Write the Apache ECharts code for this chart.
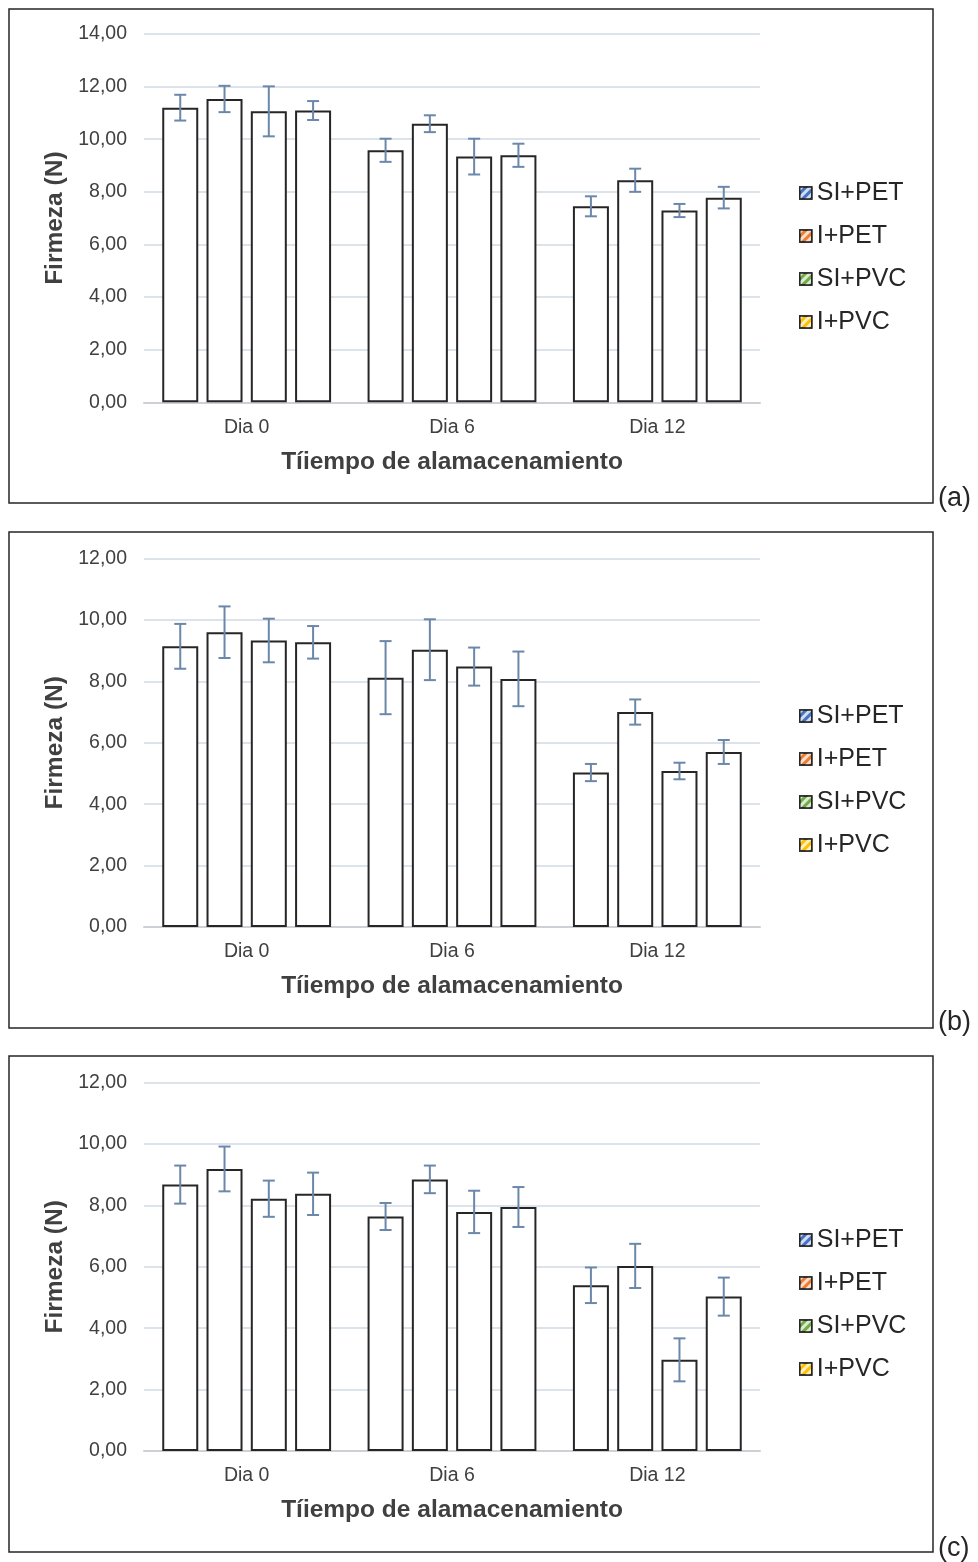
<!DOCTYPE html>
<html>
<head>
<meta charset="utf-8">
<script src="https://cdn.jsdelivr.net/npm/echarts@6/dist/echarts.min.js"></script>
<style>
html,body{margin:0;padding:0;background:#fff;}
#chart{width:978px;height:1562px;}
</style>
</head>
<body>
<div id="chart"></div>
<script>
const categories = ['Dia 0', 'Dia 6', 'Dia 12'];
const seriesNames = ['SI+PET', 'I+PET', 'SI+PVC', 'I+PVC'];
const legendColors = ['#4472c4', '#ed7d31', '#70ad47', '#ffc000'];
const panelLabels = ['(a)', '(b)', '(c)'];
const xAxisTitle = 'Tíiempo de alamacenamiento';
const yAxisTitle = 'Firmeza (N)';
const yMax = [14, 12, 12];

// Panel (a)
const a_SI_PET = [11.20, 9.58, 7.45];
const a_I_PET = [11.53, 10.59, 8.44];
const a_SI_PVC = [11.06, 9.34, 7.29];
const a_I_PVC = [11.09, 9.39, 7.78];
const a_err_SI_PET = [0.49, 0.44, 0.38];
const a_err_I_PET = [0.50, 0.32, 0.44];
const a_err_SI_PVC = [0.95, 0.68, 0.25];
const a_err_I_PVC = [0.36, 0.44, 0.41];

// Panel (b)
const b_SI_PET = [9.14, 8.12, 5.03];
const b_I_PET = [9.60, 9.03, 7.00];
const b_SI_PVC = [9.33, 8.48, 5.08];
const b_I_PVC = [9.27, 8.08, 5.70];
const b_err_SI_PET = [0.73, 1.19, 0.28];
const b_err_I_PET = [0.84, 0.99, 0.41];
const b_err_SI_PVC = [0.71, 0.62, 0.27];
const b_err_I_PVC = [0.53, 0.89, 0.39];

// Panel (c)
const c_SI_PET = [8.68, 7.64, 5.40];
const c_I_PET = [9.19, 8.85, 6.03];
const c_SI_PVC = [8.22, 7.79, 2.97];
const c_I_PVC = [8.38, 7.95, 5.03];
const c_err_SI_PET = [0.62, 0.44, 0.58];
const c_err_I_PET = [0.73, 0.45, 0.72];
const c_err_SI_PVC = [0.59, 0.69, 0.70];
const c_err_I_PVC = [0.69, 0.65, 0.62];

const panels = [
  {means: [a_SI_PET, a_I_PET, a_SI_PVC, a_I_PVC], errs: [a_err_SI_PET, a_err_I_PET, a_err_SI_PVC, a_err_I_PVC]},
  {means: [b_SI_PET, b_I_PET, b_SI_PVC, b_I_PVC], errs: [b_err_SI_PET, b_err_I_PET, b_err_SI_PVC, b_err_I_PVC]},
  {means: [c_SI_PET, c_I_PET, c_SI_PVC, c_I_PVC], errs: [c_err_SI_PET, c_err_I_PET, c_err_SI_PVC, c_err_I_PVC]}
];

// layout (pixels)
const FONT = '"Liberation Sans", Arial, sans-serif';
const gridTops = [34, 558.5, 1082.7];
const gridH = [368.3, 368.5, 368.3];
const boxTops = [9, 532, 1056];
const boxH = [494, 496, 496];
const legendTops = [180.5, 703.5, 1227.5];
const labelY = [499, 1023, 1549];
const BAR_W = 36;
const BAR_GAP = 0.23;
const ERR_COLOR = '#6b87aa';

const chart = echarts.init(document.getElementById('chart'), null, {renderer: 'canvas'});

const grids = [], xAxes = [], yAxes = [], series = [], legends = [], graphics = [];

panels.forEach((p, g) => {
  grids.push({left: 144, right: 218, top: gridTops[g], height: gridH[g], containLabel: false});
  xAxes.push({
    type: 'category', gridIndex: g, data: categories,
    axisLine: {show: true, lineStyle: {color: '#cdd1d6', width: 2}},
    axisTick: {show: false},
    axisLabel: {color: '#404040', fontFamily: FONT, fontSize: 19.5, margin: 15},
    name: xAxisTitle, nameLocation: 'middle', nameGap: 47,
    nameTextStyle: {color: '#404040', fontFamily: FONT, fontSize: 24.5, fontWeight: 'bold'}
  });
  yAxes.push({
    type: 'value', gridIndex: g, min: 0, max: yMax[g], interval: 2,
    axisLine: {show: false}, axisTick: {show: false},
    splitLine: {show: true, lineStyle: {color: '#dde3ea', width: 2}},
    axisLabel: {color: '#404040', fontFamily: FONT, fontSize: 19.5, margin: 17,
      formatter: v => v.toFixed(2).replace('.', ',')},
    name: yAxisTitle, nameLocation: 'middle', nameGap: 75, nameRotate: 90,
    nameTextStyle: {color: '#404040', fontFamily: FONT, fontSize: 24.5, fontWeight: 'bold'}
  });
  p.means.forEach((m, i) => {
    series.push({
      type: 'bar', name: seriesNames[i], xAxisIndex: g, yAxisIndex: g,
      data: m, barWidth: BAR_W, barGap: (BAR_GAP * 100) + '%',
      itemStyle: {color: '#ffffff', borderColor: '#262626', borderWidth: 2},
      emphasis: {disabled: true}, animation: false
    });
  });
  p.means.forEach((m, i) => {
    const data = m.map((v, k) => [k, v, p.errs[i][k]]);
    series.push({
      type: 'custom', xAxisIndex: g, yAxisIndex: g, z: 5, animation: false,
      data: data, encode: {x: 0, y: 1},
      renderItem: (params, api) => {
        const k = api.value(0), v = api.value(1), e = api.value(2);
        const off = (i - 1.5) * BAR_W * (1 + BAR_GAP);
        const top = api.coord([k, v + e]);
        const bot = api.coord([k, v - e]);
        const x = top[0] + off;
        const cap = 6;
        const st = {stroke: ERR_COLOR, lineWidth: 2};
        return {type: 'group', children: [
          {type: 'line', shape: {x1: x, y1: top[1], x2: x, y2: bot[1]}, style: st},
          {type: 'line', shape: {x1: x - cap, y1: top[1], x2: x + cap, y2: top[1]}, style: st},
          {type: 'line', shape: {x1: x - cap, y1: bot[1], x2: x + cap, y2: bot[1]}, style: st}
        ]};
      }
    });
  });
  legends.push({
    orient: 'vertical', left: 799, top: legendTops[g], padding: 0,
    itemWidth: 12, itemHeight: 12, itemGap: 18, selectedMode: false,
    textStyle: {color: '#262626', fontFamily: FONT, fontSize: 25, lineHeight: 25, padding: [0, 0, 0, 0]},
    data: seriesNames.map((n, i) => ({
      name: n, icon: 'rect',
      itemStyle: {color: legendColors[i], borderColor: '#262626', borderWidth: 1.5,
        decal: {symbol: 'rect', dashArrayX: [1, 0], dashArrayY: [3, 3], rotation: -Math.PI / 4, color: 'rgba(255,255,255,0.75)', symbolSize: 1}}
    }))
  });
  graphics.push({
    type: 'rect', silent: true,
    shape: {x: 9, y: boxTops[g], width: 924, height: boxH[g]},
    style: {fill: 'none', stroke: '#262626', lineWidth: 1.5}
  });
  graphics.push({
    type: 'text', silent: true, x: 938, y: labelY[g],
    style: {text: panelLabels[g], fill: '#262626', font: '27px ' + FONT, textVerticalAlign: 'middle', verticalAlign: 'middle'}
  });
});

chart.setOption({
  animation: false,
  backgroundColor: '#ffffff',
  grid: grids, xAxis: xAxes, yAxis: yAxes, series: series, legend: legends, graphic: graphics
});
</script>
</body>
</html>
